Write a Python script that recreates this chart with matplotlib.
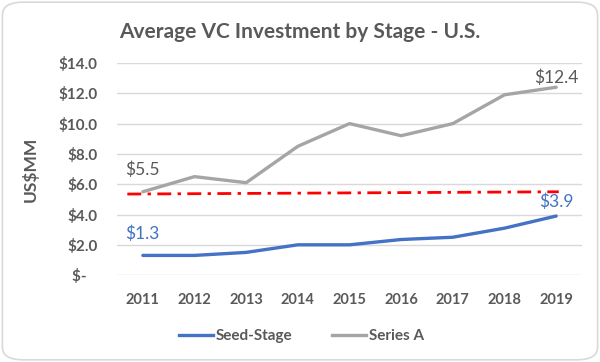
"""Average VC investment by stage, U.S. (line chart, Excel-like styling)."""
import matplotlib
matplotlib.use("Agg")
import matplotlib.pyplot as plt
from matplotlib.patches import FancyBboxPatch
from matplotlib.lines import Line2D

years = ["2011", "2012", "2013", "2014", "2015", "2016", "2017", "2018", "2019"]
seed_stage = [1.3, 1.3, 1.5, 2.0, 2.0, 2.35, 2.5, 3.1, 3.9]
series_a = [5.5, 6.5, 6.1, 8.5, 10.0, 9.2, 10.0, 11.9, 12.4]
ref_x = [-0.3, 8.05]
ref_y = [5.35, 5.5]
y_ticks = [0, 2, 4, 6, 8, 10, 12, 14]
y_labels = ["$-   ", "$2.0", "$4.0", "$6.0", "$8.0", "$10.0", "$12.0", "$14.0"]

TEXT = "#595959"
BLUE = "#4472C4"
GRAY = "#A5A5A5"
GRID = "#D9D9D9"

plt.rcParams["font.family"] = ["Lato", "DejaVu Sans"]

fig = plt.figure(figsize=(6, 3.62), dpi=100)
fig.patch.set_facecolor("white")
border = FancyBboxPatch((0.004, 0.006), 0.992, 0.988,
                        boxstyle="round,pad=0,rounding_size=0.035",
                        transform=fig.transFigure, facecolor="none",
                        edgecolor=GRID, linewidth=1.2, zorder=0)
fig.patches.append(border)

ax = fig.add_axes([0.195, 0.240, 0.775, 0.586])
ax.set_facecolor("none")
ax.set_zorder(2)
x = list(range(len(years)))

ax.plot(x, seed_stage, color=BLUE, linewidth=2.4, solid_capstyle="round")
ax.plot(x, series_a, color=GRAY, linewidth=2.4, solid_capstyle="round")
ax.plot(ref_x, ref_y, color="#FF0000", linewidth=2, linestyle=(0, (5, 2.3, 1.2, 2.3)))

ax.set_xlim(-0.5, len(years) - 0.5)
ax.set_ylim(0, 14)
ax.set_yticks(y_ticks)
ax.set_yticklabels(y_labels)
ax.set_xticks(x)
ax.set_xticklabels(years)
ax.grid(axis="y", color=GRID, linewidth=1)
ax.set_axisbelow(True)
for s in ax.spines.values():
    s.set_visible(False)
ax.tick_params(axis="y", length=0, pad=14, labelsize=11, labelcolor=TEXT)
ax.tick_params(axis="x", length=0, pad=13, labelsize=10.5, labelcolor=TEXT)
for lbl in ax.get_xticklabels() + ax.get_yticklabels():
    lbl.set_fontweight("bold")

ax.set_ylabel("US$MM", fontsize=12.5, color=TEXT, fontweight="bold", labelpad=14)

# data labels on first and last points
ax.annotate("$5.5", (0, series_a[0]), xytext=(0, 10), textcoords="offset points",
            ha="center", va="bottom", fontsize=12.5, color=TEXT)
ax.annotate("$12.4", (8, series_a[-1]), xytext=(0, 1), textcoords="offset points",
            ha="center", va="bottom", fontsize=12.5, color=TEXT)
ax.annotate("$1.3", (0, seed_stage[0]), xytext=(0, 10), textcoords="offset points",
            ha="center", va="bottom", fontsize=12.5, color=BLUE)
ax.annotate("$3.9", (8, seed_stage[-1]), xytext=(0, 4), textcoords="offset points",
            ha="center", va="bottom", fontsize=12.5, color=BLUE)

fig.text(0.5, 0.912, "Average VC Investment by Stage - U.S.", ha="center", va="center",
         fontsize=15, fontweight="bold", color=TEXT)

handles = [Line2D([0], [0], color=BLUE, linewidth=2.4),
           Line2D([0], [0], color=GRAY, linewidth=2.4)]
leg = fig.legend(handles, ["Seed-Stage", "Series A"], loc="center",
                 bbox_to_anchor=(0.503, 0.072), ncol=2, frameon=False,
                 handlelength=2.2, handletextpad=0.2, columnspacing=2.6,
                 prop={"weight": "bold", "size": 11})
for t in leg.get_texts():
    t.set_color(TEXT)

fig.savefig("out.png", dpi=100)
